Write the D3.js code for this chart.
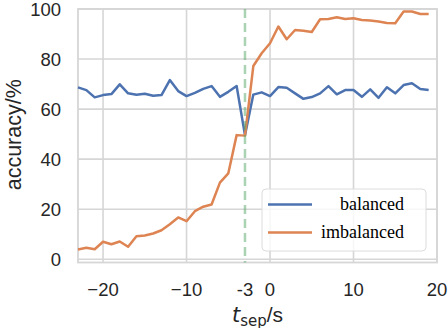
<!DOCTYPE html>
<html><head><meta charset="utf-8">
<script src="https://cdn.jsdelivr.net/npm/d3@7"></script>
<style>html,body{margin:0;padding:0;background:#fff;}svg{display:block;}</style>
</head><body>
<svg id="c" width="448" height="328"></svg>
<script>
const tsep = [-23,-22,-21,-20,-19,-18,-17,-16,-15,-14,-13,-12,-11,-10,-9,-8,-7,-6,-5,-4,-3,-2,-1,0,1,2,3,4,5,6,7,8,9,10,11,12,13,14,15,16,17,18,19];
const balanced = [68.7,67.6,64.7,65.6,66.0,69.9,66.3,65.7,66.1,65.3,65.6,71.6,67.2,65.2,66.5,68.1,69.2,64.9,66.9,69.2,49.6,65.8,66.7,65.2,68.8,68.5,66.3,64.1,64.8,66.3,69.2,65.9,67.6,67.6,64.9,67.9,64.5,68.7,66.3,69.6,70.3,68.0,67.6];
const imbalanced = [3.9,4.6,4.0,7.0,6.0,7.1,5.0,9.2,9.5,10.3,11.6,14.0,16.7,15.2,19.2,21.0,21.9,30.6,34.3,49.6,49.4,77.2,82.3,86.3,93.0,87.9,91.6,91.3,90.8,95.9,96.0,96.7,96.0,96.3,95.6,95.4,95.0,94.4,94.3,99.0,99.0,98.0,98.0];
const xTicks = [-20,-10,-3,0,10,20];
const xTickLabels = ["\u221220","\u221210","-3","0","10","20"];
const yTicks = [0,20,40,60,80,100];
const yTickLabels = ["0","20","40","60","80","100"];
const seriesNames = ["balanced","imbalanced"];
const seriesColors = ["#4c72b0","#dd8452"];
const markerX = -3;

const svg = d3.select("#c");
const L=78, R=437, T=9, B=262.5;
const x = d3.scaleLinear().domain([-23,20]).range([L,R]);
const y = d3.scaleLinear().domain([-1.3,100]).range([B,T]);
const grid = "#d6d6d6";
const sans = "Liberation Sans, Arial, sans-serif";

// gridlines
svg.append("g").selectAll("line").data(yTicks).join("line")
  .attr("x1",L).attr("x2",R).attr("y1",d=>y(d)).attr("y2",d=>y(d))
  .attr("stroke",grid).attr("stroke-width",1.6);
svg.append("g").selectAll("line").data(xTicks.filter(d=>d!==markerX)).join("line")
  .attr("x1",d=>x(d)).attr("x2",d=>x(d)).attr("y1",T).attr("y2",B)
  .attr("stroke",grid).attr("stroke-width",1.6);

// spines
svg.append("rect").attr("x",L).attr("y",T).attr("width",R-L).attr("height",B-T)
  .attr("fill","none").attr("stroke",grid).attr("stroke-width",1.8);

// lines
const series = [balanced, imbalanced];
const line = d3.line().x((d,i)=>x(tsep[i])).y(d=>y(d));
series.forEach((s,k)=>{
  svg.append("path").datum(s).attr("d",line).attr("fill","none")
    .attr("stroke",seriesColors[k]).attr("stroke-width",2.5).attr("stroke-linejoin","round");
});

// green dashed line
svg.append("line").attr("x1",x(markerX)).attr("x2",x(markerX)).attr("y1",T).attr("y2",B)
  .attr("stroke","#55a868").attr("stroke-opacity",0.5).attr("stroke-width",2.5)
  .attr("stroke-dasharray","9,5");

// tick labels
svg.append("g").selectAll("text").data(yTicks).join("text")
  .attr("x",61).attr("y",d=>y(d)).attr("dy","0.36em").attr("text-anchor","end")
  .attr("font-family",sans).attr("font-size",18.5).attr("fill","#262626")
  .text((d,i)=>yTickLabels[i]);
svg.append("g").selectAll("text").data(xTicks).join("text")
  .attr("x",d=>x(d)).attr("y",295.5).attr("text-anchor","middle")
  .attr("font-family",sans).attr("font-size",18.5).attr("fill","#262626")
  .text((d,i)=>xTickLabels[i]);

// axis labels
svg.append("text").attr("transform",`translate(20.5,${(T+B)/2 - 1}) rotate(-90)`).attr("text-anchor","middle")
  .attr("font-family",sans).attr("font-size",21.5).attr("fill","#262626")
  .text("accuracy/%");
const xl = svg.append("text").attr("x",(L+R)/2).attr("y",321.5).attr("text-anchor","middle")
  .attr("font-family",sans).attr("font-size",21).attr("fill","#262626");
xl.append("tspan").attr("font-family","DejaVu Sans").attr("font-style","italic").text("t");
xl.append("tspan").attr("font-family","DejaVu Sans").attr("font-size",15).attr("dy",4).text("sep");
xl.append("tspan").attr("dy",-4).text("/s");

// legend
const lg = svg.append("g");
lg.append("rect").attr("x",262).attr("y",189).attr("width",164).attr("height",62).attr("rx",4)
  .attr("fill","#fff").attr("fill-opacity",0.8).attr("stroke","#dcdcdc").attr("stroke-width",1);
seriesNames.forEach((n,k)=>{
  const yy = 204.5 + k*28;
  lg.append("line").attr("x1",268).attr("x2",312).attr("y1",yy).attr("y2",yy)
    .attr("stroke",seriesColors[k]).attr("stroke-width",2.5);
  lg.append("text").attr("x",404).attr("y",yy).attr("dy","0.33em").attr("text-anchor","end")
    .attr("font-family","Liberation Serif, Times New Roman, serif").attr("font-size",18).attr("fill","#000")
    .text(n);
});
</script>
</body></html>
